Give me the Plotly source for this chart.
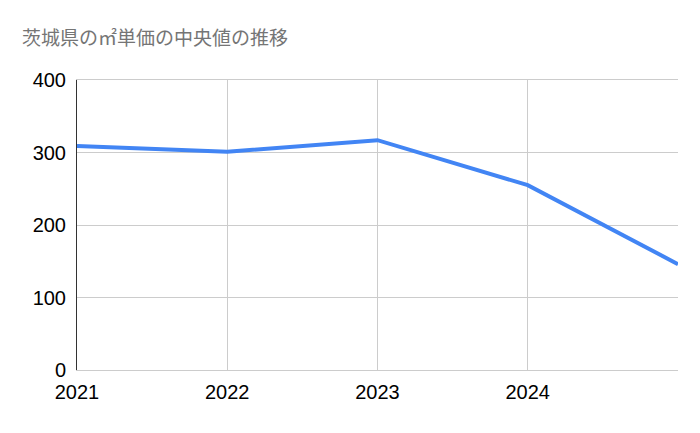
import plotly.graph_objects as go

years = [2021, 2022, 2023, 2024, 2025]
values = [309, 301, 317, 255, 146]
tick_vals = [2021, 2022, 2023, 2024]
tick_text = ["2021", "2022", "2023", "2024"]

fig = go.Figure(go.Scatter(x=years, y=values, mode="lines",
                           line=dict(color="#4285f4", width=4)))
fig.update_layout(
    width=700, height=433, paper_bgcolor="white", plot_bgcolor="white",
    margin=dict(l=69, r=30, t=72, b=71),
    title=dict(text="茨城県の㎡単価の中央値の推移", x=0.02, xanchor="left",
               y=0.93, yanchor="middle",
               font=dict(family="Noto Sans CJK JP", size=19, color="#757575")),
    font=dict(family="Liberation Sans, Arial", size=20, color="#000"),
    showlegend=False,
)
fig.update_xaxes(range=[2021, 2025], tickvals=tick_vals, ticktext=tick_text,
                 showgrid=True, gridcolor="#cccccc", zeroline=False,
                 showline=True, linecolor="#cccccc", mirror=True, ticks="",
                 ticklabelstandoff=4)
fig.update_yaxes(range=[0, 400], tickvals=[0, 100, 200, 300, 400],
                 showgrid=True, gridcolor="#cccccc", zeroline=False,
                 showline=True, linecolor="#333333", ticks="",
                 ticklabelstandoff=6)
fig.write_html("out.html")
